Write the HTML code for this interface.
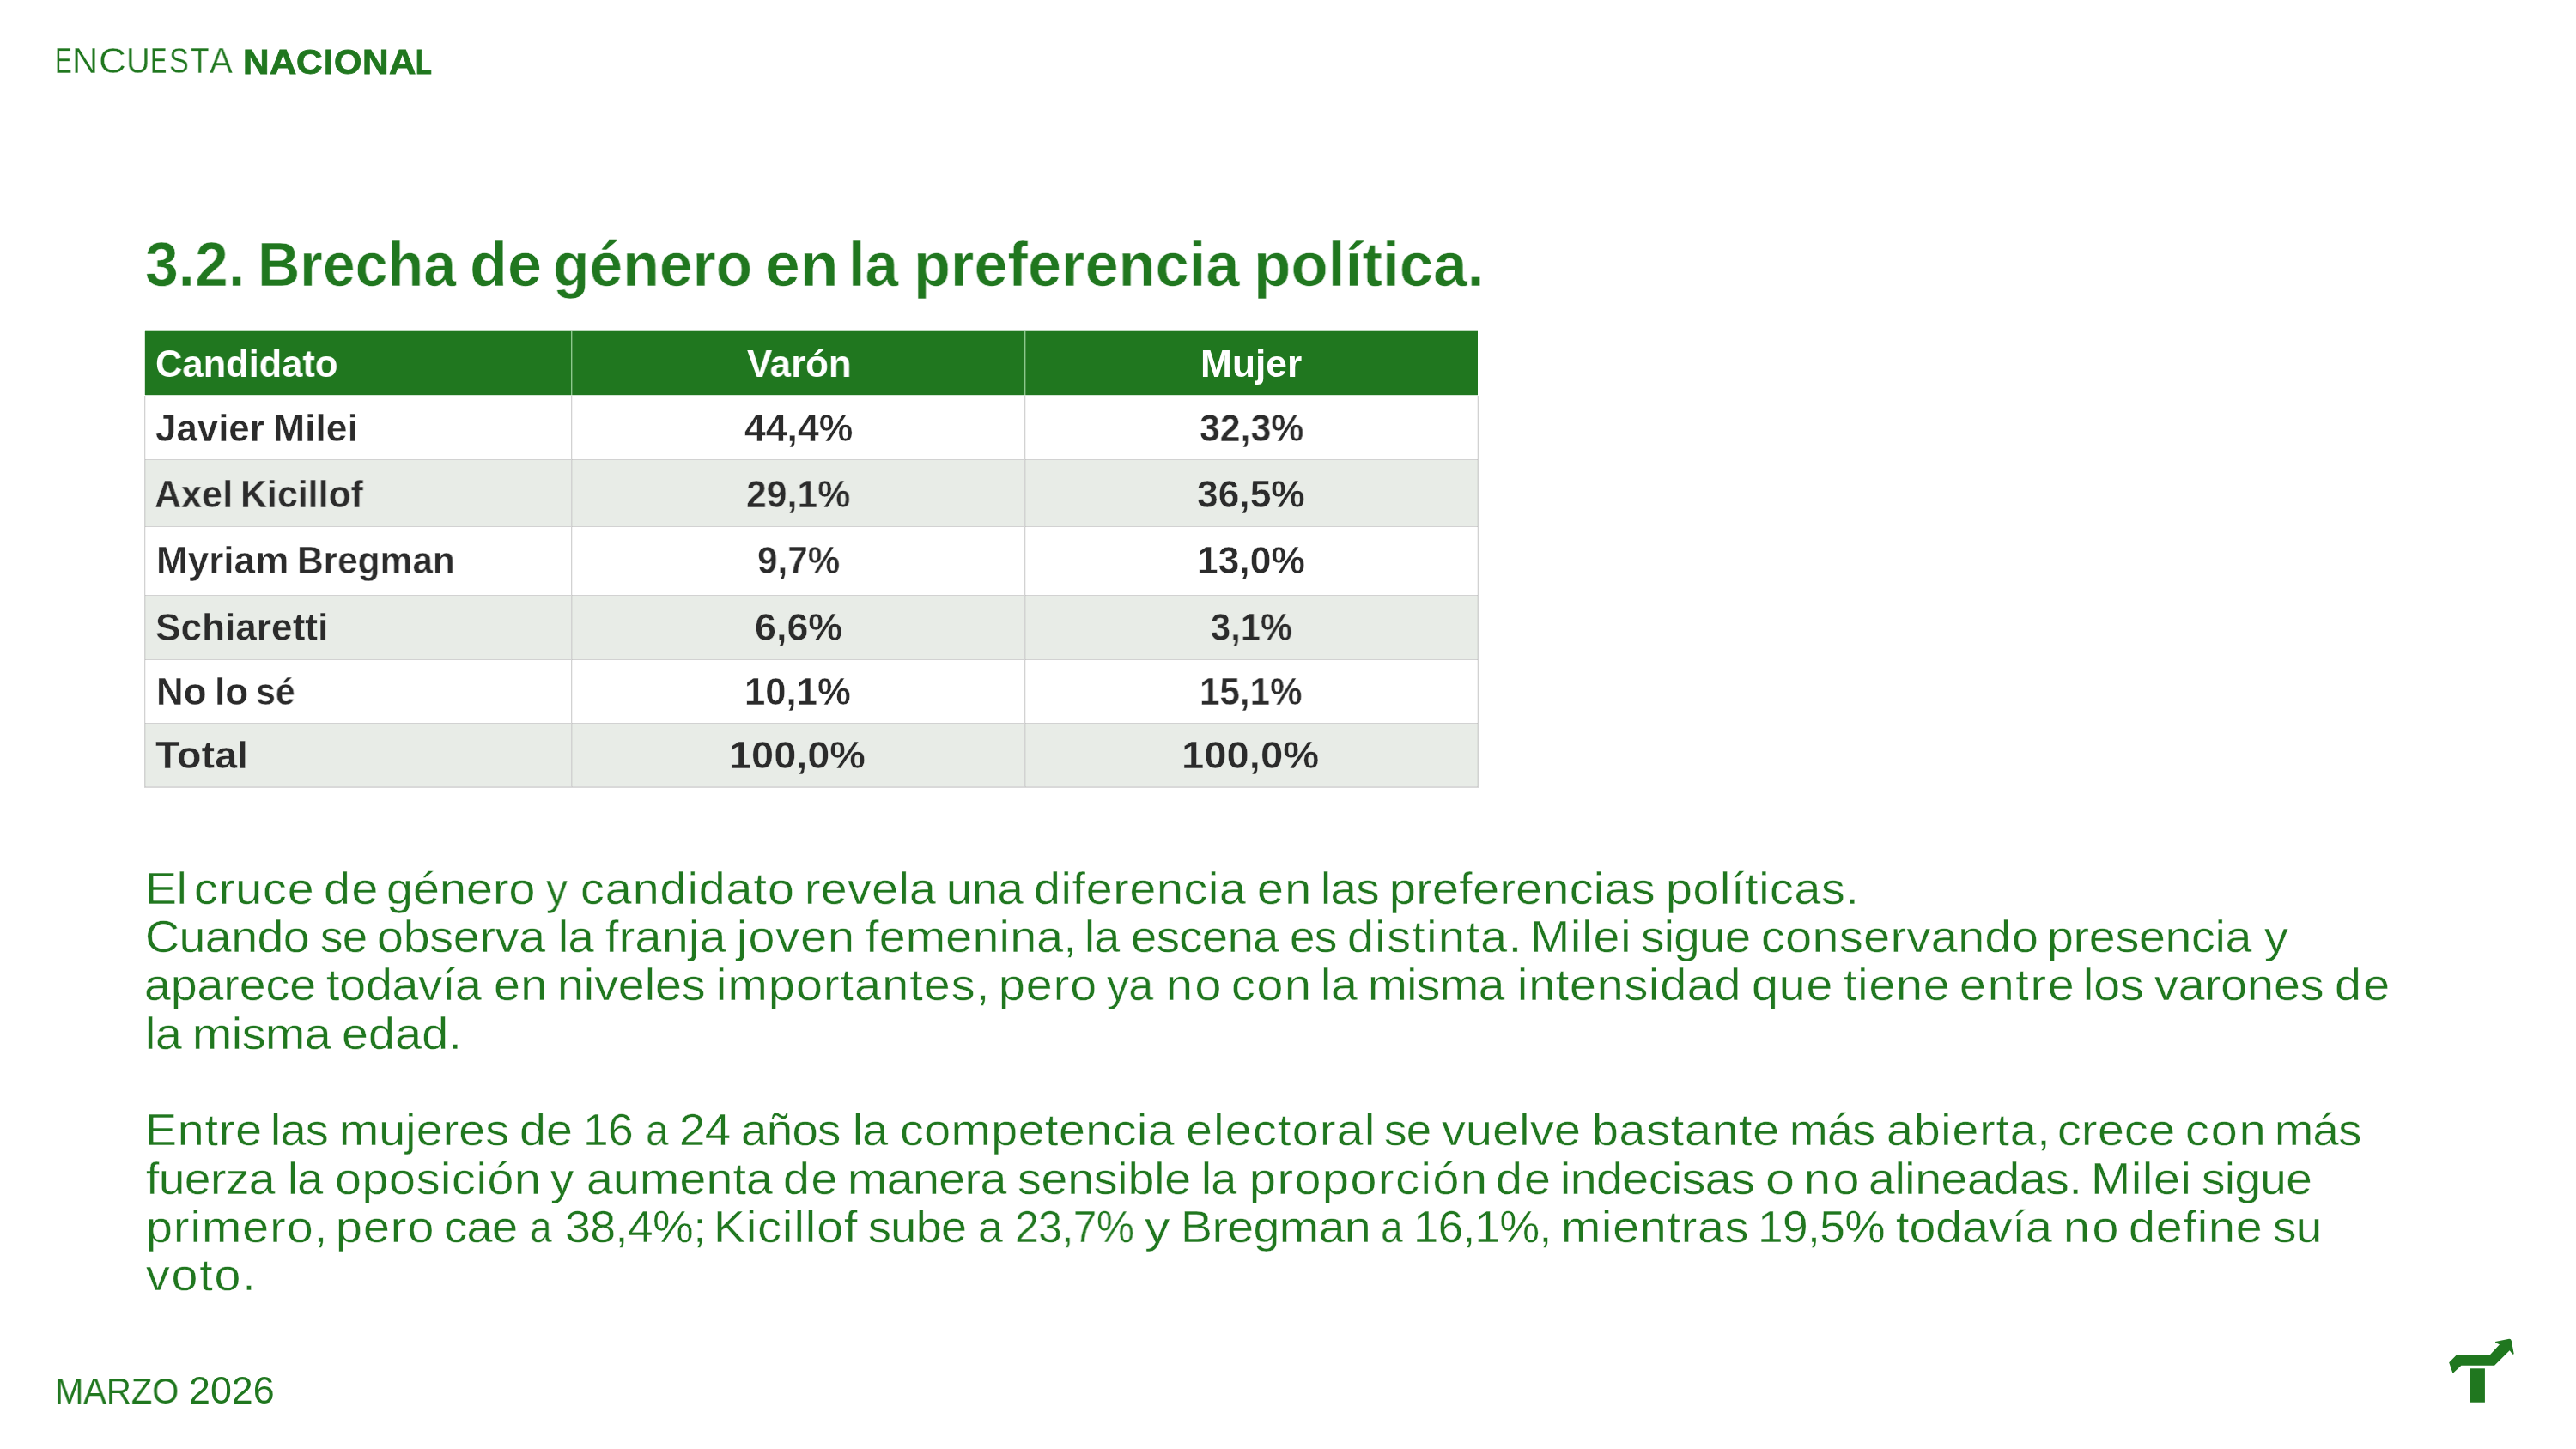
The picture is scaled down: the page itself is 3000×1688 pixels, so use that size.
<!DOCTYPE html>
<html><head><meta charset="utf-8"><title>Encuesta Nacional</title>
<style>
html,body{margin:0;padding:0;background:#fff}
body{width:3000px;height:1688px;position:relative;overflow:hidden;font-family:"Liberation Sans",sans-serif}
.t{position:absolute;white-space:pre;transform-origin:0 0;will-change:transform}
.r{position:absolute}
</style></head><body>
<div class="r" style="left:169px;top:386px;width:1552px;height:74px;background:#20771f"></div>
<div class="r" style="left:169px;top:385px;width:1552px;height:1px;background:rgba(32,119,31,0.3)"></div>
<div class="r" style="left:168px;top:386px;width:1px;height:74px;background:rgba(32,119,31,0.2)"></div>
<div class="r" style="left:169px;top:460px;width:1552px;height:1px;background:rgba(32,119,31,0.2)"></div>
<div class="r" style="left:169px;top:535px;width:1552px;height:78px;background:#e8ece7"></div>
<div class="r" style="left:169px;top:693px;width:1552px;height:75px;background:#e8ece7"></div>
<div class="r" style="left:169px;top:842px;width:1552px;height:75px;background:#e8ece7"></div>
<div class="r" style="left:168px;top:535px;width:1554px;height:1px;background:#d2d2d2"></div>
<div class="r" style="left:168px;top:613px;width:1554px;height:1px;background:#d2d2d2"></div>
<div class="r" style="left:168px;top:693px;width:1554px;height:1px;background:#d2d2d2"></div>
<div class="r" style="left:168px;top:768px;width:1554px;height:1px;background:#d2d2d2"></div>
<div class="r" style="left:168px;top:842px;width:1554px;height:1px;background:#d2d2d2"></div>
<div class="r" style="left:168px;top:916px;width:1554px;height:2px;background:#d9d9d9"></div>
<div class="r" style="left:168px;top:461px;width:1px;height:456px;background:#d2d2d2"></div>
<div class="r" style="left:169px;top:461px;width:1px;height:456px;background:rgba(0,0,0,0.05)"></div>
<div class="r" style="left:665px;top:461px;width:1px;height:456px;background:#d2d2d2"></div>
<div class="r" style="left:666px;top:461px;width:1px;height:456px;background:rgba(0,0,0,0.05)"></div>
<div class="r" style="left:1193px;top:461px;width:1px;height:456px;background:#d2d2d2"></div>
<div class="r" style="left:1194px;top:461px;width:1px;height:456px;background:rgba(0,0,0,0.05)"></div>
<div class="r" style="left:1721px;top:461px;width:1px;height:456px;background:#d2d2d2"></div>
<div class="r" style="left:1720px;top:461px;width:1px;height:456px;background:rgba(0,0,0,0.05)"></div>
<div class="r" style="left:665px;top:386px;width:1px;height:74px;background:#8cc98c"></div>
<div class="r" style="left:666px;top:386px;width:1px;height:74px;background:rgba(255,255,255,0.2)"></div>
<div class="r" style="left:1193px;top:386px;width:1px;height:74px;background:#8cc98c"></div>
<div class="r" style="left:1194px;top:386px;width:1px;height:74px;background:rgba(255,255,255,0.2)"></div>
<div class="t" style="left:64.02px;top:46.12px;font:400 41.8px/50px 'Liberation Sans',sans-serif;color:#20771f;-webkit-text-stroke:0.3px #fff;transform:scaleX(0.7059)">E</div>
<div class="t" style="left:84.32px;top:46.12px;font:400 41.8px/50px 'Liberation Sans',sans-serif;color:#20771f;-webkit-text-stroke:0.3px #fff;transform:scaleX(0.9913)">N</div>
<div class="t" style="left:115.00px;top:46.12px;font:400 41.8px/50px 'Liberation Sans',sans-serif;color:#20771f;-webkit-text-stroke:0.3px #fff;transform:scaleX(1.0527)">C</div>
<div class="t" style="left:147.08px;top:46.12px;font:400 41.8px/50px 'Liberation Sans',sans-serif;color:#20771f;-webkit-text-stroke:0.3px #fff;transform:scaleX(0.9138)">U</div>
<div class="t" style="left:175.17px;top:46.12px;font:400 41.8px/50px 'Liberation Sans',sans-serif;color:#20771f;-webkit-text-stroke:0.3px #fff;transform:scaleX(0.6973)">E</div>
<div class="t" style="left:197.19px;top:46.12px;font:400 41.8px/50px 'Liberation Sans',sans-serif;color:#20771f;-webkit-text-stroke:0.3px #fff;transform:scaleX(0.8208)">S</div>
<div class="t" style="left:221.76px;top:46.12px;font:400 41.8px/50px 'Liberation Sans',sans-serif;color:#20771f;-webkit-text-stroke:0.3px #fff;transform:scaleX(0.8435)">T</div>
<div class="t" style="left:243.97px;top:46.12px;font:400 41.8px/50px 'Liberation Sans',sans-serif;color:#20771f;-webkit-text-stroke:0.3px #fff;transform:scaleX(0.9627)">A</div>
<div class="t" style="left:282.65px;top:47.60px;font:700 40.4px/48px 'Liberation Sans',sans-serif;color:#20771f;-webkit-text-stroke:0.8px #20771f;transform:scaleX(1.0480)">N</div>
<div class="t" style="left:313.73px;top:47.60px;font:700 40.4px/48px 'Liberation Sans',sans-serif;color:#20771f;-webkit-text-stroke:0.8px #20771f;transform:scaleX(1.0741)">A</div>
<div class="t" style="left:345.15px;top:47.60px;font:700 40.4px/48px 'Liberation Sans',sans-serif;color:#20771f;-webkit-text-stroke:0.8px #20771f;transform:scaleX(1.0519)">C</div>
<div class="t" style="left:377.00px;top:47.60px;font:700 40.4px/48px 'Liberation Sans',sans-serif;color:#20771f;-webkit-text-stroke:0.8px #20771f;transform:scaleX(1.0000)">I</div>
<div class="t" style="left:389.27px;top:47.60px;font:700 40.4px/48px 'Liberation Sans',sans-serif;color:#20771f;-webkit-text-stroke:0.8px #20771f;transform:scaleX(1.0310)">O</div>
<div class="t" style="left:421.90px;top:47.60px;font:700 40.4px/48px 'Liberation Sans',sans-serif;color:#20771f;-webkit-text-stroke:0.8px #20771f;transform:scaleX(1.0480)">N</div>
<div class="t" style="left:452.82px;top:47.60px;font:700 40.4px/48px 'Liberation Sans',sans-serif;color:#20771f;-webkit-text-stroke:0.8px #20771f;transform:scaleX(1.0778)">A</div>
<div class="t" style="left:484.37px;top:47.60px;font:700 40.4px/48px 'Liberation Sans',sans-serif;color:#20771f;-webkit-text-stroke:0.8px #20771f;transform:scaleX(0.7636)">L</div>
<div class="t" style="left:168.86px;top:265.16px;font:700 71.7px/86px 'Liberation Sans',sans-serif;color:#20771f;-webkit-text-stroke:0.6px #fff;transform:scaleX(0.9723)">3.2.</div>
<div class="t" style="left:299.75px;top:265.16px;font:700 71.7px/86px 'Liberation Sans',sans-serif;color:#20771f;-webkit-text-stroke:0.6px #fff;transform:scaleX(0.9508)">Brecha</div>
<div class="t" style="left:547.29px;top:265.16px;font:700 71.7px/86px 'Liberation Sans',sans-serif;color:#20771f;-webkit-text-stroke:0.6px #fff;transform:scaleX(1.0038)">de</div>
<div class="t" style="left:643.89px;top:265.16px;font:700 71.7px/86px 'Liberation Sans',sans-serif;color:#20771f;-webkit-text-stroke:0.6px #fff;transform:scaleX(0.9712)">género</div>
<div class="t" style="left:890.63px;top:265.16px;font:700 71.7px/86px 'Liberation Sans',sans-serif;color:#20771f;-webkit-text-stroke:0.6px #fff;transform:scaleX(1.0237)">en</div>
<div class="t" style="left:988.15px;top:265.16px;font:700 71.7px/86px 'Liberation Sans',sans-serif;color:#20771f;-webkit-text-stroke:0.6px #fff;transform:scaleX(0.9709)">la</div>
<div class="t" style="left:1063.69px;top:265.16px;font:700 71.7px/86px 'Liberation Sans',sans-serif;color:#20771f;-webkit-text-stroke:0.6px #fff;transform:scaleX(0.9817)">preferencia</div>
<div class="t" style="left:1460.45px;top:265.16px;font:700 71.7px/86px 'Liberation Sans',sans-serif;color:#20771f;-webkit-text-stroke:0.6px #fff;transform:scaleX(0.9908)">política.</div>
<div class="t" style="left:181.34px;top:397.35px;font:700 44.3px/53px 'Liberation Sans',sans-serif;color:#fff;transform:scaleX(0.9808)">Candidato</div>
<div class="t" style="left:181.00px;top:472.56px;font:700 43.7px/52px 'Liberation Sans',sans-serif;color:#2b2b2b;-webkit-text-stroke:0.4px #fff;transform:scaleX(1.0040)">Javier</div>
<div class="t" style="left:318.04px;top:472.56px;font:700 43.7px/52px 'Liberation Sans',sans-serif;color:#2b2b2b;-webkit-text-stroke:0.4px #fff;transform:scaleX(1.0198)">Milei</div>
<div class="t" style="left:180.13px;top:549.76px;font:700 43.7px/52px 'Liberation Sans',sans-serif;color:#2b2b2b;-webkit-text-stroke:0.4px #e8ece7;transform:scaleX(0.9862)">Axel</div>
<div class="t" style="left:280.05px;top:549.76px;font:700 43.7px/52px 'Liberation Sans',sans-serif;color:#2b2b2b;-webkit-text-stroke:0.4px #e8ece7;transform:scaleX(0.9817)">Kicillof</div>
<div class="t" style="left:181.57px;top:627.06px;font:700 43.7px/52px 'Liberation Sans',sans-serif;color:#2b2b2b;-webkit-text-stroke:0.4px #fff;transform:scaleX(1.0088)">Myriam</div>
<div class="t" style="left:346.09px;top:627.06px;font:700 43.7px/52px 'Liberation Sans',sans-serif;color:#2b2b2b;-webkit-text-stroke:0.4px #fff;transform:scaleX(0.9705)">Bregman</div>
<div class="t" style="left:180.78px;top:704.86px;font:700 43.7px/52px 'Liberation Sans',sans-serif;color:#2b2b2b;-webkit-text-stroke:0.4px #e8ece7;transform:scaleX(1.0113)">Schiaretti</div>
<div class="t" style="left:181.78px;top:780.26px;font:700 43.7px/52px 'Liberation Sans',sans-serif;color:#2b2b2b;-webkit-text-stroke:0.4px #fff;transform:scaleX(1.0057)">No</div>
<div class="t" style="left:249.67px;top:780.26px;font:700 43.7px/52px 'Liberation Sans',sans-serif;color:#2b2b2b;-webkit-text-stroke:0.4px #fff;transform:scaleX(1.0088)">lo</div>
<div class="t" style="left:297.72px;top:780.26px;font:700 43.7px/52px 'Liberation Sans',sans-serif;color:#2b2b2b;-webkit-text-stroke:0.4px #fff;transform:scaleX(0.9422)">sé</div>
<div class="t" style="left:181.03px;top:854.16px;font:700 43.7px/52px 'Liberation Sans',sans-serif;color:#2b2b2b;-webkit-text-stroke:0.4px #e8ece7;transform:scaleX(1.0691)">Total</div>
<div class="t" style="left:870.10px;top:397.35px;font:700 44.3px/53px 'Liberation Sans',sans-serif;color:#fff;transform:scaleX(0.9875)">Varón</div>
<div class="t" style="left:866.78px;top:472.56px;font:700 43.7px/52px 'Liberation Sans',sans-serif;color:#2b2b2b;-webkit-text-stroke:0.4px #fff;transform:scaleX(1.0207)">44,4%</div>
<div class="t" style="left:868.54px;top:549.76px;font:700 43.7px/52px 'Liberation Sans',sans-serif;color:#2b2b2b;-webkit-text-stroke:0.4px #e8ece7;transform:scaleX(0.9792)">29,1%</div>
<div class="t" style="left:881.77px;top:627.06px;font:700 43.7px/52px 'Liberation Sans',sans-serif;color:#2b2b2b;-webkit-text-stroke:0.4px #fff;transform:scaleX(0.9656)">9,7%</div>
<div class="t" style="left:878.75px;top:704.86px;font:700 43.7px/52px 'Liberation Sans',sans-serif;color:#2b2b2b;-webkit-text-stroke:0.4px #e8ece7;transform:scaleX(1.0260)">6,6%</div>
<div class="t" style="left:867.10px;top:780.26px;font:700 43.7px/52px 'Liberation Sans',sans-serif;color:#2b2b2b;-webkit-text-stroke:0.4px #fff;transform:scaleX(0.9992)">10,1%</div>
<div class="t" style="left:849.18px;top:854.16px;font:700 43.7px/52px 'Liberation Sans',sans-serif;color:#2b2b2b;-webkit-text-stroke:0.4px #e8ece7;transform:scaleX(1.0736)">100,0%</div>
<div class="t" style="left:1398.11px;top:397.35px;font:700 44.3px/53px 'Liberation Sans',sans-serif;color:#fff;transform:scaleX(0.9983)">Mujer</div>
<div class="t" style="left:1396.84px;top:472.56px;font:700 43.7px/52px 'Liberation Sans',sans-serif;color:#2b2b2b;-webkit-text-stroke:0.4px #fff;transform:scaleX(0.9800)">32,3%</div>
<div class="t" style="left:1394.37px;top:549.76px;font:700 43.7px/52px 'Liberation Sans',sans-serif;color:#2b2b2b;-webkit-text-stroke:0.4px #e8ece7;transform:scaleX(1.0158)">36,5%</div>
<div class="t" style="left:1394.05px;top:627.06px;font:700 43.7px/52px 'Liberation Sans',sans-serif;color:#2b2b2b;-webkit-text-stroke:0.4px #fff;transform:scaleX(1.0160)">13,0%</div>
<div class="t" style="left:1409.69px;top:704.86px;font:700 43.7px/52px 'Liberation Sans',sans-serif;color:#2b2b2b;-webkit-text-stroke:0.4px #e8ece7;transform:scaleX(0.9531)">3,1%</div>
<div class="t" style="left:1397.00px;top:780.26px;font:700 43.7px/52px 'Liberation Sans',sans-serif;color:#2b2b2b;-webkit-text-stroke:0.4px #fff;transform:scaleX(0.9655)">15,1%</div>
<div class="t" style="left:1376.16px;top:854.16px;font:700 43.7px/52px 'Liberation Sans',sans-serif;color:#2b2b2b;-webkit-text-stroke:0.4px #e8ece7;transform:scaleX(1.0806)">100,0%</div>
<div class="t" style="left:168.76px;top:1003.88px;font:400 52.0px/62px 'Liberation Sans',sans-serif;color:#20771f;letter-spacing:-0.543px;-webkit-text-stroke:0.4px #fff;transform:scaleX(1.0670)">El</div>
<div class="t" style="left:226.10px;top:1003.88px;font:400 52.0px/62px 'Liberation Sans',sans-serif;color:#20771f;letter-spacing:0.936px;-webkit-text-stroke:0.4px #fff;transform:scaleX(1.0670)">cruce</div>
<div class="t" style="left:376.90px;top:1003.88px;font:400 52.0px/62px 'Liberation Sans',sans-serif;color:#20771f;letter-spacing:1.515px;-webkit-text-stroke:0.4px #fff;transform:scaleX(1.0670)">de</div>
<div class="t" style="left:450.30px;top:1003.88px;font:400 52.0px/62px 'Liberation Sans',sans-serif;color:#20771f;letter-spacing:0.121px;-webkit-text-stroke:0.4px #fff;transform:scaleX(1.0670)">género</div>
<div class="t" style="left:635.94px;top:1003.88px;font:400 52.0px/62px 'Liberation Sans',sans-serif;color:#20771f;-webkit-text-stroke:0.4px #fff;transform:scaleX(0.9625)">y</div>
<div class="t" style="left:676.10px;top:1003.88px;font:400 52.0px/62px 'Liberation Sans',sans-serif;color:#20771f;letter-spacing:0.956px;-webkit-text-stroke:0.4px #fff;transform:scaleX(1.0670)">candidato</div>
<div class="t" style="left:937.03px;top:1003.88px;font:400 52.0px/62px 'Liberation Sans',sans-serif;color:#20771f;letter-spacing:0.341px;-webkit-text-stroke:0.4px #fff;transform:scaleX(1.0670)">revela</div>
<div class="t" style="left:1101.50px;top:1003.88px;font:400 52.0px/62px 'Liberation Sans',sans-serif;color:#20771f;letter-spacing:-0.600px;-webkit-text-stroke:0.4px #fff;transform:scaleX(1.0495)">una</div>
<div class="t" style="left:1204.40px;top:1003.88px;font:400 52.0px/62px 'Liberation Sans',sans-serif;color:#20771f;letter-spacing:0.659px;-webkit-text-stroke:0.4px #fff;transform:scaleX(1.0670)">diferencia</div>
<div class="t" style="left:1463.90px;top:1003.88px;font:400 52.0px/62px 'Liberation Sans',sans-serif;color:#20771f;letter-spacing:1.202px;-webkit-text-stroke:0.4px #fff;transform:scaleX(1.0670)">en</div>
<div class="t" style="left:1537.60px;top:1003.88px;font:400 52.0px/62px 'Liberation Sans',sans-serif;color:#20771f;letter-spacing:-0.600px;-webkit-text-stroke:0.4px #fff;transform:scaleX(1.0493)">las</div>
<div class="t" style="left:1617.73px;top:1003.88px;font:400 52.0px/62px 'Liberation Sans',sans-serif;color:#20771f;letter-spacing:0.361px;-webkit-text-stroke:0.4px #fff;transform:scaleX(1.0670)">preferencias</div>
<div class="t" style="left:1939.73px;top:1003.88px;font:400 52.0px/62px 'Liberation Sans',sans-serif;color:#20771f;letter-spacing:0.611px;-webkit-text-stroke:0.4px #fff;transform:scaleX(1.0670)">políticas.</div>
<div class="t" style="left:169.00px;top:1060.18px;font:400 52.0px/62px 'Liberation Sans',sans-serif;color:#20771f;letter-spacing:-0.498px;-webkit-text-stroke:0.4px #fff;transform:scaleX(1.0670)">Cuando</div>
<div class="t" style="left:372.67px;top:1060.18px;font:400 52.0px/62px 'Liberation Sans',sans-serif;color:#20771f;letter-spacing:-0.600px;-webkit-text-stroke:0.4px #fff;transform:scaleX(1.0162)">se</div>
<div class="t" style="left:439.40px;top:1060.18px;font:400 52.0px/62px 'Liberation Sans',sans-serif;color:#20771f;letter-spacing:-0.202px;-webkit-text-stroke:0.4px #fff;transform:scaleX(1.0670)">observa</div>
<div class="t" style="left:650.41px;top:1060.18px;font:400 52.0px/62px 'Liberation Sans',sans-serif;color:#20771f;letter-spacing:-0.600px;-webkit-text-stroke:0.4px #fff;transform:scaleX(1.0480)">la</div>
<div class="t" style="left:705.13px;top:1060.18px;font:400 52.0px/62px 'Liberation Sans',sans-serif;color:#20771f;letter-spacing:0.311px;-webkit-text-stroke:0.4px #fff;transform:scaleX(1.0670)">franja</div>
<div class="t" style="left:858.07px;top:1060.18px;font:400 52.0px/62px 'Liberation Sans',sans-serif;color:#20771f;letter-spacing:1.014px;-webkit-text-stroke:0.4px #fff;transform:scaleX(1.0670)">joven</div>
<div class="t" style="left:1008.13px;top:1060.18px;font:400 52.0px/62px 'Liberation Sans',sans-serif;color:#20771f;letter-spacing:0.261px;-webkit-text-stroke:0.4px #fff;transform:scaleX(1.0670)">femenina,</div>
<div class="t" style="left:1263.15px;top:1060.18px;font:400 52.0px/62px 'Liberation Sans',sans-serif;color:#20771f;letter-spacing:-0.600px;-webkit-text-stroke:0.4px #fff;transform:scaleX(1.0367)">la</div>
<div class="t" style="left:1317.16px;top:1060.18px;font:400 52.0px/62px 'Liberation Sans',sans-serif;color:#20771f;letter-spacing:-0.600px;-webkit-text-stroke:0.4px #fff;transform:scaleX(1.0466)">escena</div>
<div class="t" style="left:1502.05px;top:1060.18px;font:400 52.0px/62px 'Liberation Sans',sans-serif;color:#20771f;letter-spacing:-0.600px;-webkit-text-stroke:0.4px #fff;transform:scaleX(1.0182)">es</div>
<div class="t" style="left:1568.50px;top:1060.18px;font:400 52.0px/62px 'Liberation Sans',sans-serif;color:#20771f;letter-spacing:1.387px;-webkit-text-stroke:0.4px #fff;transform:scaleX(1.0670)">distinta.</div>
<div class="t" style="left:1781.66px;top:1060.18px;font:400 52.0px/62px 'Liberation Sans',sans-serif;color:#20771f;letter-spacing:0.805px;-webkit-text-stroke:0.4px #fff;transform:scaleX(1.0670)">Milei</div>
<div class="t" style="left:1910.60px;top:1060.18px;font:400 52.0px/62px 'Liberation Sans',sans-serif;color:#20771f;letter-spacing:-0.600px;-webkit-text-stroke:0.4px #fff;transform:scaleX(1.0519)">sigue</div>
<div class="t" style="left:2050.80px;top:1060.18px;font:400 52.0px/62px 'Liberation Sans',sans-serif;color:#20771f;letter-spacing:0.472px;-webkit-text-stroke:0.4px #fff;transform:scaleX(1.0670)">conservando</div>
<div class="t" style="left:2384.03px;top:1060.18px;font:400 52.0px/62px 'Liberation Sans',sans-serif;color:#20771f;letter-spacing:-0.247px;-webkit-text-stroke:0.4px #fff;transform:scaleX(1.0670)">presencia</div>
<div class="t" style="left:2637.23px;top:1060.18px;font:400 52.0px/62px 'Liberation Sans',sans-serif;color:#20771f;-webkit-text-stroke:0.4px #fff;transform:scaleX(1.0708)">y</div>
<div class="t" style="left:168.20px;top:1116.48px;font:400 52.0px/62px 'Liberation Sans',sans-serif;color:#20771f;letter-spacing:-0.062px;-webkit-text-stroke:0.4px #fff;transform:scaleX(1.0670)">aparece</div>
<div class="t" style="left:380.43px;top:1116.48px;font:400 52.0px/62px 'Liberation Sans',sans-serif;color:#20771f;letter-spacing:-0.160px;-webkit-text-stroke:0.4px #fff;transform:scaleX(1.0670)">todavía</div>
<div class="t" style="left:575.40px;top:1116.48px;font:400 52.0px/62px 'Liberation Sans',sans-serif;color:#20771f;letter-spacing:0.453px;-webkit-text-stroke:0.4px #fff;transform:scaleX(1.0670)">en</div>
<div class="t" style="left:648.93px;top:1116.48px;font:400 52.0px/62px 'Liberation Sans',sans-serif;color:#20771f;letter-spacing:-0.024px;-webkit-text-stroke:0.4px #fff;transform:scaleX(1.0670)">niveles</div>
<div class="t" style="left:833.73px;top:1116.48px;font:400 52.0px/62px 'Liberation Sans',sans-serif;color:#20771f;letter-spacing:1.094px;-webkit-text-stroke:0.4px #fff;transform:scaleX(1.0670)">importantes,</div>
<div class="t" style="left:1162.93px;top:1116.48px;font:400 52.0px/62px 'Liberation Sans',sans-serif;color:#20771f;letter-spacing:0.948px;-webkit-text-stroke:0.4px #fff;transform:scaleX(1.0670)">pero</div>
<div class="t" style="left:1289.41px;top:1116.48px;font:400 52.0px/62px 'Liberation Sans',sans-serif;color:#20771f;letter-spacing:-0.600px;-webkit-text-stroke:0.4px #fff;transform:scaleX(0.9944)">ya</div>
<div class="t" style="left:1358.13px;top:1116.48px;font:400 52.0px/62px 'Liberation Sans',sans-serif;color:#20771f;letter-spacing:2.515px;-webkit-text-stroke:0.4px #fff;transform:scaleX(1.0670)">no</div>
<div class="t" style="left:1434.00px;top:1116.48px;font:400 52.0px/62px 'Liberation Sans',sans-serif;color:#20771f;letter-spacing:1.612px;-webkit-text-stroke:0.4px #fff;transform:scaleX(1.0670)">con</div>
<div class="t" style="left:1537.53px;top:1116.48px;font:400 52.0px/62px 'Liberation Sans',sans-serif;color:#20771f;letter-spacing:-0.386px;-webkit-text-stroke:0.4px #fff;transform:scaleX(1.0670)">la</div>
<div class="t" style="left:1593.27px;top:1116.48px;font:400 52.0px/62px 'Liberation Sans',sans-serif;color:#20771f;letter-spacing:-0.600px;-webkit-text-stroke:0.4px #fff;transform:scaleX(1.0566)">misma</div>
<div class="t" style="left:1766.73px;top:1116.48px;font:400 52.0px/62px 'Liberation Sans',sans-serif;color:#20771f;letter-spacing:0.777px;-webkit-text-stroke:0.4px #fff;transform:scaleX(1.0670)">intensidad</div>
<div class="t" style="left:2040.00px;top:1116.48px;font:400 52.0px/62px 'Liberation Sans',sans-serif;color:#20771f;letter-spacing:0.878px;-webkit-text-stroke:0.4px #fff;transform:scaleX(1.0670)">que</div>
<div class="t" style="left:2146.73px;top:1116.48px;font:400 52.0px/62px 'Liberation Sans',sans-serif;color:#20771f;letter-spacing:0.772px;-webkit-text-stroke:0.4px #fff;transform:scaleX(1.0670)">tiene</div>
<div class="t" style="left:2281.80px;top:1116.48px;font:400 52.0px/62px 'Liberation Sans',sans-serif;color:#20771f;letter-spacing:1.670px;-webkit-text-stroke:0.4px #fff;transform:scaleX(1.0670)">entre</div>
<div class="t" style="left:2426.13px;top:1116.48px;font:400 52.0px/62px 'Liberation Sans',sans-serif;color:#20771f;letter-spacing:-0.103px;-webkit-text-stroke:0.4px #fff;transform:scaleX(1.0670)">los</div>
<div class="t" style="left:2509.43px;top:1116.48px;font:400 52.0px/62px 'Liberation Sans',sans-serif;color:#20771f;letter-spacing:0.017px;-webkit-text-stroke:0.4px #fff;transform:scaleX(1.0670)">varones</div>
<div class="t" style="left:2718.80px;top:1116.48px;font:400 52.0px/62px 'Liberation Sans',sans-serif;color:#20771f;letter-spacing:2.358px;-webkit-text-stroke:0.4px #fff;transform:scaleX(1.0670)">de</div>
<div class="t" style="left:168.93px;top:1172.78px;font:400 52.0px/62px 'Liberation Sans',sans-serif;color:#20771f;letter-spacing:-0.199px;-webkit-text-stroke:0.4px #fff;transform:scaleX(1.0670)">la</div>
<div class="t" style="left:223.63px;top:1172.78px;font:400 52.0px/62px 'Liberation Sans',sans-serif;color:#20771f;letter-spacing:-0.394px;-webkit-text-stroke:0.4px #fff;transform:scaleX(1.0670)">misma</div>
<div class="t" style="left:397.50px;top:1172.78px;font:400 52.0px/62px 'Liberation Sans',sans-serif;color:#20771f;letter-spacing:0.240px;-webkit-text-stroke:0.4px #fff;transform:scaleX(1.0670)">edad.</div>
<div class="t" style="left:168.76px;top:1285.38px;font:400 52.0px/62px 'Liberation Sans',sans-serif;color:#20771f;letter-spacing:0.803px;-webkit-text-stroke:0.4px #fff;transform:scaleX(1.0670)">Entre</div>
<div class="t" style="left:314.84px;top:1285.38px;font:400 52.0px/62px 'Liberation Sans',sans-serif;color:#20771f;letter-spacing:-0.600px;-webkit-text-stroke:0.4px #fff;transform:scaleX(1.0391)">las</div>
<div class="t" style="left:394.83px;top:1285.38px;font:400 52.0px/62px 'Liberation Sans',sans-serif;color:#20771f;letter-spacing:0.095px;-webkit-text-stroke:0.4px #fff;transform:scaleX(1.0670)">mujeres</div>
<div class="t" style="left:605.20px;top:1285.38px;font:400 52.0px/62px 'Liberation Sans',sans-serif;color:#20771f;letter-spacing:0.202px;-webkit-text-stroke:0.4px #fff;transform:scaleX(1.0670)">de</div>
<div class="t" style="left:679.00px;top:1285.38px;font:400 52.0px/62px 'Liberation Sans',sans-serif;color:#20771f;letter-spacing:-0.600px;-webkit-text-stroke:0.4px #fff;transform:scaleX(1.0238)">16</div>
<div class="t" style="left:751.65px;top:1285.38px;font:400 52.0px/62px 'Liberation Sans',sans-serif;color:#20771f;-webkit-text-stroke:0.4px #fff;transform:scaleX(0.9154)">a</div>
<div class="t" style="left:791.35px;top:1285.38px;font:400 52.0px/62px 'Liberation Sans',sans-serif;color:#20771f;letter-spacing:-0.600px;-webkit-text-stroke:0.4px #fff;transform:scaleX(1.0496)">24</div>
<div class="t" style="left:863.35px;top:1285.38px;font:400 52.0px/62px 'Liberation Sans',sans-serif;color:#20771f;letter-spacing:-0.600px;-webkit-text-stroke:0.4px #fff;transform:scaleX(1.0490)">años</div>
<div class="t" style="left:992.86px;top:1285.38px;font:400 52.0px/62px 'Liberation Sans',sans-serif;color:#20771f;letter-spacing:-0.600px;-webkit-text-stroke:0.4px #fff;transform:scaleX(1.0339)">la</div>
<div class="t" style="left:1048.10px;top:1285.38px;font:400 52.0px/62px 'Liberation Sans',sans-serif;color:#20771f;letter-spacing:0.472px;-webkit-text-stroke:0.4px #fff;transform:scaleX(1.0670)">competencia</div>
<div class="t" style="left:1381.00px;top:1285.38px;font:400 52.0px/62px 'Liberation Sans',sans-serif;color:#20771f;letter-spacing:1.238px;-webkit-text-stroke:0.4px #fff;transform:scaleX(1.0670)">electoral</div>
<div class="t" style="left:1611.76px;top:1285.38px;font:400 52.0px/62px 'Liberation Sans',sans-serif;color:#20771f;letter-spacing:-0.600px;-webkit-text-stroke:0.4px #fff;transform:scaleX(1.0182)">se</div>
<div class="t" style="left:1679.33px;top:1285.38px;font:400 52.0px/62px 'Liberation Sans',sans-serif;color:#20771f;letter-spacing:0.272px;-webkit-text-stroke:0.4px #fff;transform:scaleX(1.0670)">vuelve</div>
<div class="t" style="left:1853.53px;top:1285.38px;font:400 52.0px/62px 'Liberation Sans',sans-serif;color:#20771f;letter-spacing:0.705px;-webkit-text-stroke:0.4px #fff;transform:scaleX(1.0670)">bastante</div>
<div class="t" style="left:2083.88px;top:1285.38px;font:400 52.0px/62px 'Liberation Sans',sans-serif;color:#20771f;letter-spacing:-0.600px;-webkit-text-stroke:0.4px #fff;transform:scaleX(1.0297)">más</div>
<div class="t" style="left:2196.60px;top:1285.38px;font:400 52.0px/62px 'Liberation Sans',sans-serif;color:#20771f;letter-spacing:0.756px;-webkit-text-stroke:0.4px #fff;transform:scaleX(1.0670)">abierta,</div>
<div class="t" style="left:2395.90px;top:1285.38px;font:400 52.0px/62px 'Liberation Sans',sans-serif;color:#20771f;letter-spacing:0.326px;-webkit-text-stroke:0.4px #fff;transform:scaleX(1.0670)">crece</div>
<div class="t" style="left:2544.80px;top:1285.38px;font:400 52.0px/62px 'Liberation Sans',sans-serif;color:#20771f;letter-spacing:1.894px;-webkit-text-stroke:0.4px #fff;transform:scaleX(1.0670)">con</div>
<div class="t" style="left:2649.02px;top:1285.38px;font:400 52.0px/62px 'Liberation Sans',sans-serif;color:#20771f;letter-spacing:-0.600px;-webkit-text-stroke:0.4px #fff;transform:scaleX(1.0441)">más</div>
<div class="t" style="left:170.34px;top:1341.68px;font:400 52.0px/62px 'Liberation Sans',sans-serif;color:#20771f;letter-spacing:-0.600px;-webkit-text-stroke:0.4px #fff;transform:scaleX(1.0636)">fuerza</div>
<div class="t" style="left:335.15px;top:1341.68px;font:400 52.0px/62px 'Liberation Sans',sans-serif;color:#20771f;letter-spacing:-0.600px;-webkit-text-stroke:0.4px #fff;transform:scaleX(1.0367)">la</div>
<div class="t" style="left:390.00px;top:1341.68px;font:400 52.0px/62px 'Liberation Sans',sans-serif;color:#20771f;letter-spacing:0.648px;-webkit-text-stroke:0.4px #fff;transform:scaleX(1.0670)">oposición</div>
<div class="t" style="left:641.25px;top:1341.68px;font:400 52.0px/62px 'Liberation Sans',sans-serif;color:#20771f;-webkit-text-stroke:0.4px #fff;transform:scaleX(1.0500)">y</div>
<div class="t" style="left:682.60px;top:1341.68px;font:400 52.0px/62px 'Liberation Sans',sans-serif;color:#20771f;letter-spacing:0.151px;-webkit-text-stroke:0.4px #fff;transform:scaleX(1.0670)">aumenta</div>
<div class="t" style="left:912.20px;top:1341.68px;font:400 52.0px/62px 'Liberation Sans',sans-serif;color:#20771f;letter-spacing:1.515px;-webkit-text-stroke:0.4px #fff;transform:scaleX(1.0670)">de</div>
<div class="t" style="left:987.23px;top:1341.68px;font:400 52.0px/62px 'Liberation Sans',sans-serif;color:#20771f;letter-spacing:-0.529px;-webkit-text-stroke:0.4px #fff;transform:scaleX(1.0670)">manera</div>
<div class="t" style="left:1185.07px;top:1341.68px;font:400 52.0px/62px 'Liberation Sans',sans-serif;color:#20771f;letter-spacing:-0.196px;-webkit-text-stroke:0.4px #fff;transform:scaleX(1.0670)">sensible</div>
<div class="t" style="left:1399.05px;top:1341.68px;font:400 52.0px/62px 'Liberation Sans',sans-serif;color:#20771f;letter-spacing:-0.600px;-webkit-text-stroke:0.4px #fff;transform:scaleX(1.0367)">la</div>
<div class="t" style="left:1454.63px;top:1341.68px;font:400 52.0px/62px 'Liberation Sans',sans-serif;color:#20771f;letter-spacing:1.536px;-webkit-text-stroke:0.4px #fff;transform:scaleX(1.0670)">proporción</div>
<div class="t" style="left:1741.80px;top:1341.68px;font:400 52.0px/62px 'Liberation Sans',sans-serif;color:#20771f;letter-spacing:2.077px;-webkit-text-stroke:0.4px #fff;transform:scaleX(1.0670)">de</div>
<div class="t" style="left:1816.93px;top:1341.68px;font:400 52.0px/62px 'Liberation Sans',sans-serif;color:#20771f;letter-spacing:-0.532px;-webkit-text-stroke:0.4px #fff;transform:scaleX(1.0670)">indecisas</div>
<div class="t" style="left:2055.97px;top:1341.68px;font:400 52.0px/62px 'Liberation Sans',sans-serif;color:#20771f;-webkit-text-stroke:0.4px #fff;transform:scaleX(1.1783)">o</div>
<div class="t" style="left:2101.43px;top:1341.68px;font:400 52.0px/62px 'Liberation Sans',sans-serif;color:#20771f;letter-spacing:2.421px;-webkit-text-stroke:0.4px #fff;transform:scaleX(1.0670)">no</div>
<div class="t" style="left:2176.10px;top:1341.68px;font:400 52.0px/62px 'Liberation Sans',sans-serif;color:#20771f;letter-spacing:-0.431px;-webkit-text-stroke:0.4px #fff;transform:scaleX(1.0670)">alineadas.</div>
<div class="t" style="left:2434.57px;top:1341.68px;font:400 52.0px/62px 'Liberation Sans',sans-serif;color:#20771f;letter-spacing:0.641px;-webkit-text-stroke:0.4px #fff;transform:scaleX(1.0670)">Milei</div>
<div class="t" style="left:2564.19px;top:1341.68px;font:400 52.0px/62px 'Liberation Sans',sans-serif;color:#20771f;letter-spacing:-0.600px;-webkit-text-stroke:0.4px #fff;transform:scaleX(1.0561)">sigue</div>
<div class="t" style="left:169.83px;top:1397.98px;font:400 52.0px/62px 'Liberation Sans',sans-serif;color:#20771f;letter-spacing:1.032px;-webkit-text-stroke:0.4px #fff;transform:scaleX(1.0670)">primero,</div>
<div class="t" style="left:390.83px;top:1397.98px;font:400 52.0px/62px 'Liberation Sans',sans-serif;color:#20771f;letter-spacing:1.010px;-webkit-text-stroke:0.4px #fff;transform:scaleX(1.0670)">pero</div>
<div class="t" style="left:516.97px;top:1397.98px;font:400 52.0px/62px 'Liberation Sans',sans-serif;color:#20771f;letter-spacing:-0.600px;-webkit-text-stroke:0.4px #fff;transform:scaleX(1.0430)">cae</div>
<div class="t" style="left:616.53px;top:1397.98px;font:400 52.0px/62px 'Liberation Sans',sans-serif;color:#20771f;-webkit-text-stroke:0.4px #fff;transform:scaleX(0.8885)">a</div>
<div class="t" style="left:657.93px;top:1397.98px;font:400 52.0px/62px 'Liberation Sans',sans-serif;color:#20771f;letter-spacing:-0.600px;-webkit-text-stroke:0.4px #fff;transform:scaleX(1.0329)">38,4%;</div>
<div class="t" style="left:831.16px;top:1397.98px;font:400 52.0px/62px 'Liberation Sans',sans-serif;color:#20771f;letter-spacing:0.949px;-webkit-text-stroke:0.4px #fff;transform:scaleX(1.0670)">Kicillof</div>
<div class="t" style="left:1011.23px;top:1397.98px;font:400 52.0px/62px 'Liberation Sans',sans-serif;color:#20771f;letter-spacing:-0.600px;-webkit-text-stroke:0.4px #fff;transform:scaleX(1.0358)">sube</div>
<div class="t" style="left:1139.33px;top:1397.98px;font:400 52.0px/62px 'Liberation Sans',sans-serif;color:#20771f;-webkit-text-stroke:0.4px #fff;transform:scaleX(0.9885)">a</div>
<div class="t" style="left:1182.12px;top:1397.98px;font:400 52.0px/62px 'Liberation Sans',sans-serif;color:#20771f;letter-spacing:-0.600px;-webkit-text-stroke:0.4px #fff;transform:scaleX(0.9599)">23,7%</div>
<div class="t" style="left:1332.77px;top:1397.98px;font:400 52.0px/62px 'Liberation Sans',sans-serif;color:#20771f;-webkit-text-stroke:0.4px #fff;transform:scaleX(1.1333)">y</div>
<div class="t" style="left:1374.76px;top:1397.98px;font:400 52.0px/62px 'Liberation Sans',sans-serif;color:#20771f;letter-spacing:-0.552px;-webkit-text-stroke:0.4px #fff;transform:scaleX(1.0670)">Bregman</div>
<div class="t" style="left:1608.43px;top:1397.98px;font:400 52.0px/62px 'Liberation Sans',sans-serif;color:#20771f;-webkit-text-stroke:0.4px #fff;transform:scaleX(0.8885)">a</div>
<div class="t" style="left:1646.44px;top:1397.98px;font:400 52.0px/62px 'Liberation Sans',sans-serif;color:#20771f;letter-spacing:-0.600px;-webkit-text-stroke:0.4px #fff;transform:scaleX(1.0147)">16,1%,</div>
<div class="t" style="left:1817.73px;top:1397.98px;font:400 52.0px/62px 'Liberation Sans',sans-serif;color:#20771f;letter-spacing:0.759px;-webkit-text-stroke:0.4px #fff;transform:scaleX(1.0670)">mientras</div>
<div class="t" style="left:2047.20px;top:1397.98px;font:400 52.0px/62px 'Liberation Sans',sans-serif;color:#20771f;letter-spacing:-0.600px;-webkit-text-stroke:0.4px #fff;transform:scaleX(1.0245)">19,5%</div>
<div class="t" style="left:2208.43px;top:1397.98px;font:400 52.0px/62px 'Liberation Sans',sans-serif;color:#20771f;letter-spacing:-0.035px;-webkit-text-stroke:0.4px #fff;transform:scaleX(1.0670)">todavía</div>
<div class="t" style="left:2403.03px;top:1397.98px;font:400 52.0px/62px 'Liberation Sans',sans-serif;color:#20771f;letter-spacing:2.421px;-webkit-text-stroke:0.4px #fff;transform:scaleX(1.0670)">no</div>
<div class="t" style="left:2478.80px;top:1397.98px;font:400 52.0px/62px 'Liberation Sans',sans-serif;color:#20771f;letter-spacing:0.822px;-webkit-text-stroke:0.4px #fff;transform:scaleX(1.0670)">define</div>
<div class="t" style="left:2647.00px;top:1397.98px;font:400 52.0px/62px 'Liberation Sans',sans-serif;color:#20771f;letter-spacing:-0.600px;-webkit-text-stroke:0.4px #fff;transform:scaleX(1.0517)">su</div>
<div class="t" style="left:170.23px;top:1454.28px;font:400 52.0px/62px 'Liberation Sans',sans-serif;color:#20771f;letter-spacing:1.741px;-webkit-text-stroke:0.4px #fff;transform:scaleX(1.0670)">voto.</div>
<div class="t" style="left:64.23px;top:1595.72px;font:400 41.8px/50px 'Liberation Sans',sans-serif;color:#20771f;transform:scaleX(0.9555)">MARZO</div>
<div class="t" style="left:220.04px;top:1594.13px;font:400 43.5px/52px 'Liberation Sans',sans-serif;color:#20771f;transform:scaleX(1.0290)">2026</div>
<svg class="r" style="left:2820px;top:1540px" width="140" height="140" viewBox="0 0 1449 1449">
<path fill="#20771f" d="M333 490 L420 400 L822 400 L942 272 L893 252 L890 238 L1058 205 Q1080 205 1085 228 L1115 385 L1100 390 L1063 345 L880 525 L480 525 L378 622 Z"/>
<rect fill="#20771f" x="580" y="562" width="185" height="408"/>
</svg>
</body></html>
